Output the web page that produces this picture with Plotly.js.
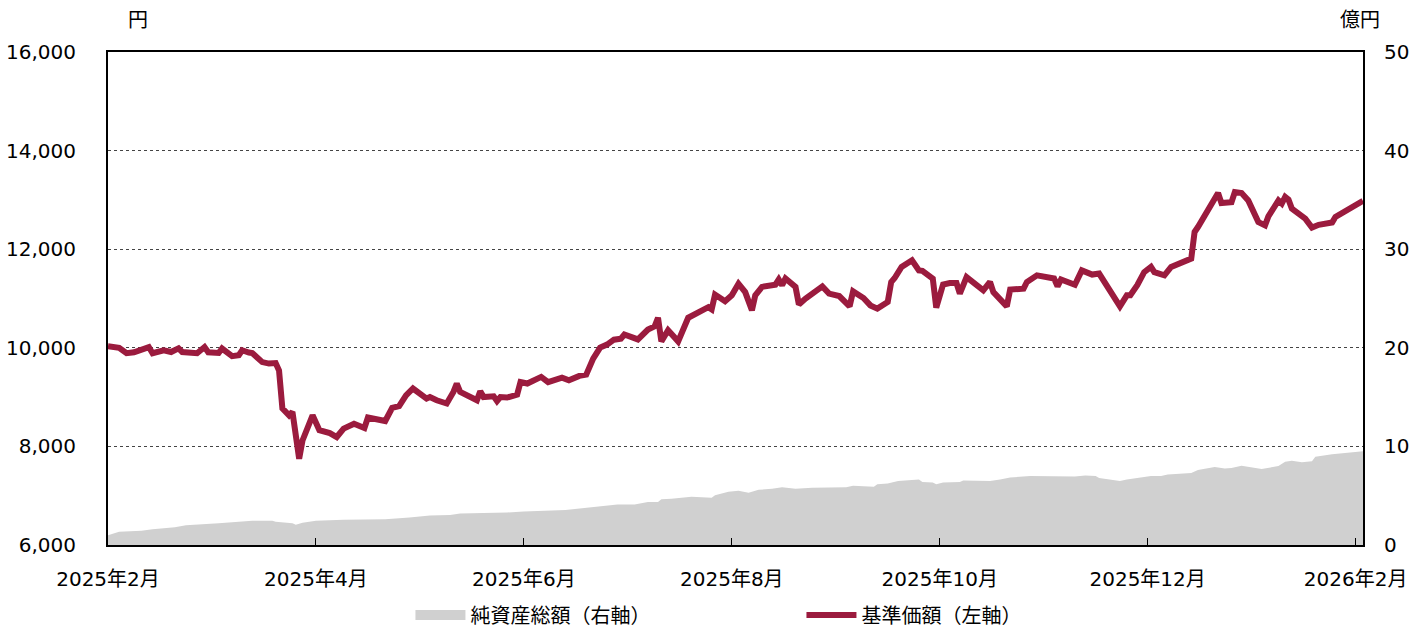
<!DOCTYPE html>
<html>
<head>
<meta charset="utf-8">
<script src="https://cdn.plot.ly/plotly-3.0.1.min.js"></script>
<style>html,body{margin:0;padding:0;background:#fff;overflow:hidden;}#chart{width:1411px;height:629px;}</style>
</head>
<body>
<div id="chart"></div>
<script>
// 基準価額 (left axis, 円)
const priceDates = ["2025-02-01","2025-02-04","2025-02-06","2025-02-08","2025-02-12","2025-02-13","2025-02-16","2025-02-18","2025-02-20","2025-02-21","2025-02-25","2025-02-27","2025-02-28",
"2025-03-03","2025-03-04","2025-03-07","2025-03-09","2025-03-10","2025-03-12","2025-03-13","2025-03-16","2025-03-18","2025-03-20","2025-03-21","2025-03-22","2025-03-24","2025-03-25","2025-03-26","2025-03-27","2025-03-28","2025-03-31",
"2025-04-02","2025-04-05","2025-04-07","2025-04-09","2025-04-12","2025-04-15","2025-04-16","2025-04-21","2025-04-23","2025-04-25","2025-04-27","2025-04-29",
"2025-05-03","2025-05-04","2025-05-06","2025-05-09","2025-05-11","2025-05-12","2025-05-13","2025-05-17","2025-05-18","2025-05-19","2025-05-20","2025-05-23","2025-05-24","2025-05-25","2025-05-27","2025-05-30","2025-05-31",
"2025-06-02","2025-06-04","2025-06-06","2025-06-08","2025-06-12","2025-06-14","2025-06-17","2025-06-19","2025-06-21","2025-06-23","2025-06-25","2025-06-27","2025-06-29","2025-06-30",
"2025-07-04","2025-07-07","2025-07-09","2025-07-10","2025-07-11","2025-07-13","2025-07-16","2025-07-19","2025-07-22","2025-07-25","2025-07-26","2025-07-27","2025-07-30",
"2025-08-01","2025-08-03","2025-08-05","2025-08-07","2025-08-08","2025-08-10","2025-08-14","2025-08-15","2025-08-16","2025-08-17","2025-08-20","2025-08-21","2025-08-23","2025-08-28","2025-08-30",
"2025-09-02","2025-09-05","2025-09-06","2025-09-09","2025-09-11","2025-09-13","2025-09-16","2025-09-17","2025-09-18","2025-09-20","2025-09-23","2025-09-25","2025-09-26","2025-09-29","2025-09-30",
"2025-10-02","2025-10-04","2025-10-06","2025-10-07","2025-10-09","2025-10-14","2025-10-16","2025-10-17","2025-10-21","2025-10-22","2025-10-26","2025-10-27","2025-10-30",
"2025-11-04","2025-11-05","2025-11-06","2025-11-10","2025-11-12","2025-11-15","2025-11-17","2025-11-23","2025-11-25","2025-11-26","2025-11-28","2025-11-30",
"2025-12-02","2025-12-03","2025-12-06","2025-12-08","2025-12-14","2025-12-15","2025-12-16","2025-12-19","2025-12-22","2025-12-23","2025-12-26","2025-12-27","2025-12-29","2025-12-31",
"2026-01-03","2026-01-05","2026-01-06","2026-01-09","2026-01-10","2026-01-11","2026-01-12","2026-01-13","2026-01-17","2026-01-19","2026-01-21","2026-01-25","2026-01-26","2026-02-03"];
const priceValues = [10030,10000,9890,9910,10015,9890,9950,9915,9990,9915,9890,10015,9910,
9895,9985,9830,9850,9950,9905,9895,9710,9680,9690,9540,8770,8630,8700,8270,7750,8120,8630,
8330,8270,8190,8360,8460,8375,8585,8515,8780,8815,9035,9175,
8970,9000,8935,8870,9105,9275,9105,8990,8935,9120,9000,9015,8920,9000,8990,9050,9305,
9275,9355,9410,9305,9395,9340,9430,9455,9780,10005,10065,10165,10185,10270,
10170,10370,10435,10610,10130,10355,10130,10610,10705,10825,10780,11080,10945,
11065,11300,11130,10760,11065,11235,11280,11385,11270,11405,11235,10880,11000,11245,11100,
11050,10840,11145,11010,10860,10795,10930,11335,11415,11640,11775,11570,11560,11405,10815,
11285,11315,11315,11100,11435,11165,11335,11130,10840,11180,11200,11335,11470,
11405,11245,11385,11280,11570,11485,11505,10840,11065,11065,11270,11535,
11640,11535,11470,11640,11810,12350,12450,12790,13140,12935,12955,13160,13140,12990,
12550,12485,12665,12990,12925,13060,13005,12825,12620,12440,12495,12540,12655,12980];

// 純資産総額 (right axis, 億円)
const navDates = ["2025-02-01","2025-02-04","2025-02-10","2025-02-13","2025-02-19","2025-02-22",
"2025-03-03","2025-03-13","2025-03-19","2025-03-20","2025-03-25","2025-03-26","2025-03-28",
"2025-04-01","2025-04-09","2025-04-21","2025-04-28",
"2025-05-04","2025-05-10","2025-05-13","2025-05-27",
"2025-06-01","2025-06-13","2025-06-20","2025-06-28",
"2025-07-03","2025-07-07","2025-07-10","2025-07-11","2025-07-14","2025-07-20","2025-07-26","2025-07-27","2025-07-31",
"2025-08-03","2025-08-06","2025-08-09","2025-08-13","2025-08-16","2025-08-20","2025-08-25",
"2025-09-04","2025-09-06","2025-09-12","2025-09-13","2025-09-16","2025-09-19","2025-09-25","2025-09-26","2025-09-29","2025-09-30",
"2025-10-02","2025-10-07","2025-10-08","2025-10-16","2025-10-19","2025-10-22","2025-10-28",
"2025-11-10","2025-11-13","2025-11-16","2025-11-17","2025-11-23","2025-11-25",
"2025-12-02","2025-12-05","2025-12-07","2025-12-14","2025-12-16","2025-12-21","2025-12-24","2025-12-26","2025-12-29",
"2026-01-04","2026-01-09","2026-01-11","2026-01-13","2026-01-16","2026-01-19","2026-01-20","2026-01-25","2026-02-03"];
const navValues = [1.0,1.35,1.45,1.6,1.8,2.0,
2.2,2.45,2.45,2.35,2.2,2.05,2.25,
2.45,2.55,2.6,2.8,
3.0,3.05,3.2,3.3,
3.4,3.55,3.8,4.1,
4.1,4.35,4.35,4.65,4.7,4.9,4.8,5.05,5.4,
5.5,5.3,5.6,5.7,5.85,5.7,5.8,
5.85,6.0,5.9,6.15,6.25,6.5,6.65,6.4,6.35,6.15,
6.35,6.4,6.55,6.5,6.65,6.85,7.0,
6.95,7.05,7.0,6.8,6.5,6.65,
7.0,7.0,7.15,7.3,7.6,7.9,7.75,7.8,8.05,
7.7,8.0,8.45,8.55,8.4,8.5,8.95,9.2,9.5];

const tickLabels = ["2025年2月","2025年4月","2025年6月","2025年8月","2025年10月","2025年12月","2026年2月"];
const tickMonths = [0,2,4,6,8,10,12];

// months since 2025-02 (each month equal width)
function toM(s){
  const p = s.split('-').map(Number);
  const k = (p[0]-2025)*12 + (p[1]-2);
  const dim = new Date(p[0], p[1], 0).getDate();
  return k + (p[2]-1)/dim;
}
const px = priceDates.map(toM);
const nx = navDates.map(toM);
const xmax = Math.max(px[px.length-1], nx[nx.length-1]);

const FONT = "DejaVu Sans, 'Noto Sans CJK JP', sans-serif";
const GRAY = '#d0d0d0';
const RED = '#9b1b3e';

const traces = [
  {x: nx, y: navValues, yaxis: 'y2', type: 'scatter', mode: 'lines', fill: 'tozeroy',
   fillcolor: GRAY, line: {width: 0, color: GRAY}, name: '純資産総額（右軸）', showlegend: false, hoverinfo: 'y'},
  {x: [null], y: [null], yaxis: 'y2', type: 'scatter', mode: 'lines',
   line: {width: 14, color: GRAY}, name: '純資産総額（右軸）', showlegend: true, hoverinfo: 'skip'},
  {x: px, y: priceValues, yaxis: 'y', type: 'scatter', mode: 'lines',
   line: {width: 6, color: RED}, name: '基準価額（左軸）', hoverinfo: 'y'}
];

const layout = {
  width: 1411, height: 629,
  margin: {l: 108, r: 48, t: 52, b: 84, autoexpand: false},
  paper_bgcolor: '#fff', plot_bgcolor: '#fff',
  font: {family: FONT, size: 20, color: '#000'},
  showlegend: true,
  legend: {orientation: 'h', x: 0.241, xanchor: 'left', y: -0.142, yanchor: 'middle',
           entrywidth: 326, entrywidthmode: 'pixels', itemwidth: 50,
           font: {family: FONT, size: 20, color: '#000'}, bgcolor: 'rgba(0,0,0,0)'},
  xaxis: {type: 'linear', range: [0, xmax], tickvals: tickMonths, ticktext: tickLabels,
          ticks: 'inside', ticklen: 7, tickwidth: 1, tickcolor: '#000',
          showline: true, linecolor: '#000', linewidth: 2, mirror: true,
          showgrid: false, zeroline: false, ticklabelstandoff: 15,
          tickfont: {family: FONT, size: 20, color: '#000'}},
  yaxis: {range: [6000, 16000], dtick: 2000, tick0: 6000, tickformat: ',d',
          showline: true, linecolor: '#000', linewidth: 2, mirror: true,
          showgrid: true, gridcolor: '#444', gridwidth: 1, griddash: 'dot',
          zeroline: false, ticks: '', ticklabelstandoff: 26,
          tickfont: {family: FONT, size: 20, color: '#000'}},
  yaxis2: {range: [0, 50], dtick: 10, overlaying: 'y', side: 'right',
           showline: true, linecolor: '#000', linewidth: 2,
           showgrid: false, zeroline: false, ticks: '', ticklabelstandoff: 15,
           tickfont: {family: FONT, size: 20, color: '#000'}},
  annotations: [
    {text: '円', xref: 'paper', yref: 'paper', x: 0.024, y: 1.065, xanchor: 'center', yanchor: 'middle',
     showarrow: false, font: {family: FONT, size: 20, color: '#000'}},
    {text: '億円', xref: 'paper', yref: 'paper', x: 0.998, y: 1.065, xanchor: 'center', yanchor: 'middle',
     showarrow: false, font: {family: FONT, size: 20, color: '#000'}}
  ]
};

Plotly.newPlot('chart', traces, layout, {displayModeBar: false, staticPlot: true});
</script>
</body>
</html>
